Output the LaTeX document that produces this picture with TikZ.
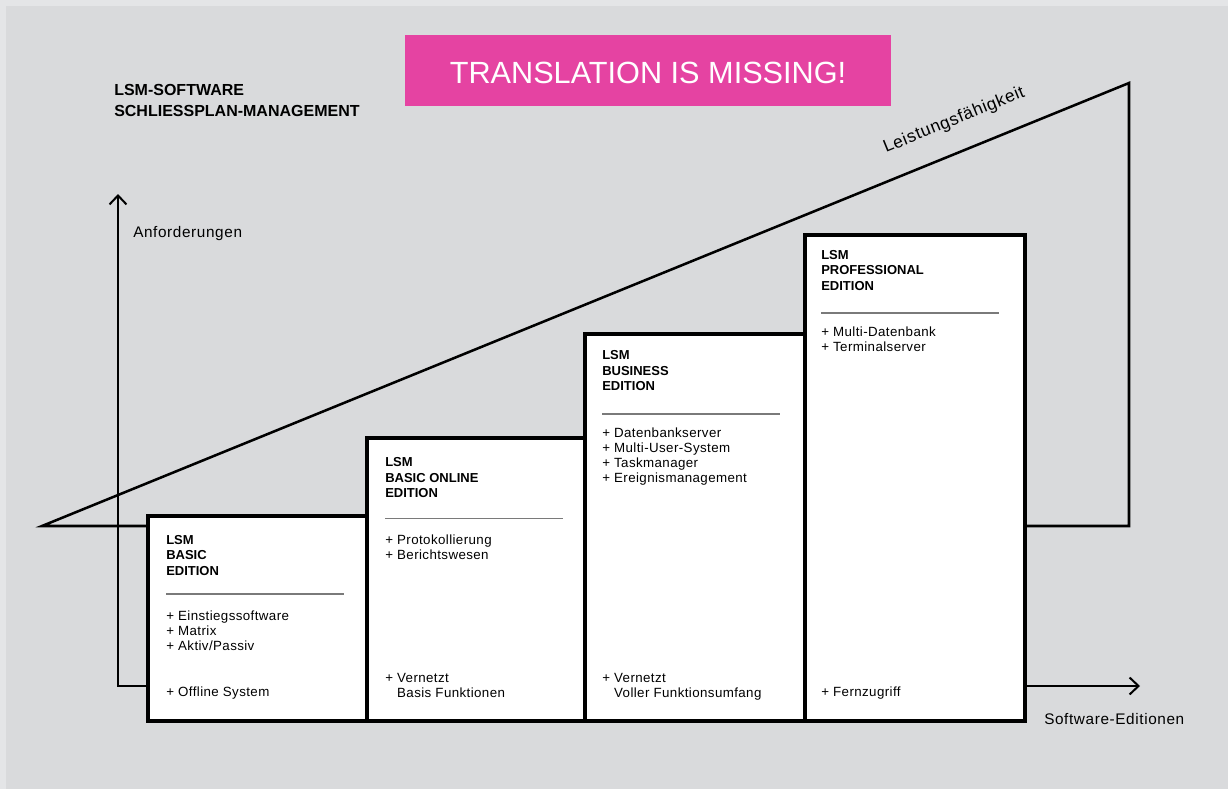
\documentclass[tikz,border=0pt]{standalone}
\usepackage{fontspec}
\setmainfont{Liberation Sans}
\newfontfamily\trackfont[LetterSpace=3]{Liberation Sans}
\newfontfamily\widefont[LetterSpace=4]{Liberation Sans}
\usetikzlibrary{positioning,arrows.meta}
\definecolor{pagebg}{HTML}{E4E5E7}
\definecolor{panelbg}{HTML}{D9DADC}
\definecolor{flagpink}{HTML}{E543A2}
\definecolor{rulegray}{HTML}{7A7A7A}

\tikzset{
  edbox/.style={draw=black, line width=3pt, fill=white, anchor=north west, inner sep=0pt},
  edtitle/.style={anchor=base west, inner sep=0pt, align=left, font=\fontsize{9.75}{11.6}\selectfont\bfseries},
  editem/.style={anchor=base west, inner sep=0pt, align=left, font=\fontsize{10}{11.4}\selectfont\trackfont},
  edrule/.style={draw=rulegray, line width=0.9pt},
  axis/.style={line width=1.5pt, {Straight Barb[length=6.75pt,width=12.75pt]}-{Straight Barb[length=6.75pt,width=12.75pt]}},
  axislabel/.style={anchor=base west, inner sep=0pt, font=\fontsize{11.5}{13}\selectfont\widefont},
}

\begin{document}
\begin{tikzpicture}[x=0.75pt,y=-0.75pt]
\useasboundingbox (0,0) rectangle (1228,789);
\fill[pagebg] (0,0) rectangle (1228,789);
\fill[panelbg] (6,6) rectangle (1228,789);

% banner and heading (multi-line nodes sit on their last baseline)
\node[fill=flagpink, text=white, minimum width=364.5pt, minimum height=53.25pt, text height=19.2pt, text depth=0pt, inner sep=0pt, font=\fontsize{23}{23}\selectfont] (banner) at (648,70.5) {TRANSLATION IS MISSING!};
\node[anchor=base west, inner sep=0pt, align=left, font=\fontsize{12}{15.75}\selectfont\bfseries] (heading) at (114,116.7) {LSM-SOFTWARE\\SCHLIESSPLAN-MANAGEMENT};

% wedge
\coordinate (tip) at (42,526);
\coordinate (peak) at (1129,83);
\coordinate (foot) at (1129,526);
\draw[line width=1.9pt] (tip) -- (peak) node[pos=0.85, sloped, above=16.5pt, inner sep=0pt, font=\fontsize{13}{15}\selectfont\widefont] (power) {Leistungsfähigkeit} -- (foot) -- cycle;

% axes
\coordinate (origin) at (118,686);
\coordinate (ytop) at (118,194);
\coordinate (xend) at (1140,686);
\draw[axis] (ytop) -- (origin) -- (xend);
\node[axislabel] (demand) at (133,237.3) {Anforderungen};
\node[axislabel] (editions) at (1044,724) {Software-Editionen};

% edition boxes
\node[edbox, minimum width=164.25pt, minimum height=153.75pt] (basic) at (146,514) {};
\node[edbox, minimum width=163.5pt, minimum height=212.25pt] (online) at (365,436) {};
\node[edbox, minimum width=165pt, minimum height=290.25pt] (business) at (583,332) {};
\node[edbox, minimum width=165pt, minimum height=364.5pt] (pro) at (803,233) {};

% basic
\node[edtitle] (basic-title) at (166,575.4) {LSM\\BASIC\\EDITION};
\draw[edrule] (166,594) -- (344,594);
\node[editem] (basic-items) at (166,650.4) {+ Einstiegssoftware\\+ Matrix\\+ Aktiv/Passiv};
\node[editem] (basic-net) at (166,696.5) {+ Offline System};

% basic online
\node[edtitle] (online-title) at (385,497.6) {LSM\\BASIC ONLINE\\EDITION};
\draw[edrule] (385,518.7) -- (563,518.7);
\node[editem] (online-items) at (385,559.2) {+ Protokollierung\\+ Berichtswesen};
\node[editem] (online-net) at (385,697.5) {+ Vernetzt\\\hphantom{+\ }Basis Funktionen};

% business
\node[edtitle] (business-title) at (602,390.9) {LSM\\BUSINESS\\EDITION};
\draw[edrule] (602,414) -- (780,414);
\node[editem] (business-items) at (602,482.9) {+ Datenbankserver\\+ Multi-User-System\\+ Taskmanager\\+ Ereignismanagement};
\node[editem] (business-net) at (602,697.5) {+ Vernetzt\\\hphantom{+\ }Voller Funktionsumfang};

% professional
\node[edtitle] (pro-title) at (821,290.2) {LSM\\PROFESSIONAL\\EDITION};
\draw[edrule] (821,313) -- (999,313);
\node[editem] (pro-items) at (821,351.9) {+ Multi-Datenbank\\+ Terminalserver};
\node[editem] (pro-net) at (821,696) {+ Fernzugriff};
\end{tikzpicture}
\end{document}
